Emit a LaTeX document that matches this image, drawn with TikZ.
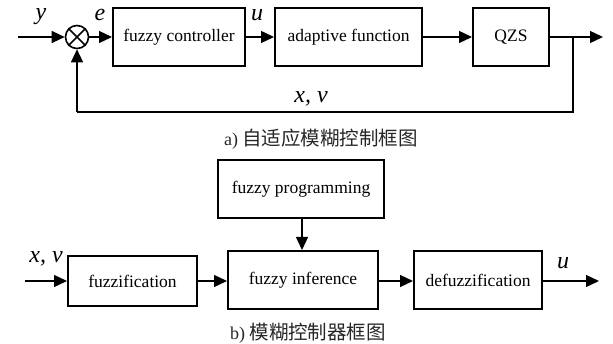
\documentclass[tikz,border=0pt]{standalone}
\usepackage{fontspec}
\setmainfont{Liberation Serif}
\newfontfamily\cjk{Noto Sans CJK SC}
\usetikzlibrary{arrows.meta}
\tikzset{
  blk/.style={draw, line width=2pt, inner sep=0pt, font=\fontsize{17.5}{20}\selectfont},
  conn/.style={line width=1.3pt},
  arr/.style={conn, -{Triangle[length=13pt,width=12pt]}},
  lbl/.style={inner sep=0pt, anchor=base, font=\fontsize{24}{26}\selectfont\itshape},
  captxt/.style={inner sep=0pt, text=black!85},
}
\begin{document}
\begin{tikzpicture}[x=1pt,y=-1pt]
\useasboundingbox (0,0) rectangle (613,344);
% ---------- a) ----------
\coordinate (in) at (18,37);
\node[draw, line width=1.6pt, circle, minimum size=23pt, inner sep=0pt] (sum) at (77,37) {};
\draw[line width=1.6pt] (sum.north west) -- (sum.south east) (sum.north east) -- (sum.south west);
\node[blk, minimum width=132pt, minimum height=58pt] (fc) at (179,37) {fuzzy controller};
\node[blk, minimum width=147pt, minimum height=58pt] (af) at (348.5,37) {adaptive function};
\node[blk, minimum width=76pt, minimum height=58pt] (qzs) at (511,37) {QZS};
\coordinate (br) at (573,37);
\coordinate (out) at (603,37);
\coordinate (fb1) at (573,112);
\coordinate (fb2) at (77,112);
\draw[arr] (in) -- (sum);
\draw[arr] (sum) -- (fc);
\draw[arr] (fc) -- (af);
\draw[arr] (af) -- (qzs);
\draw[arr] (qzs) -- (out);
\draw[conn] (br) -- (fb1) -- (fb2);
\draw[arr] (fb2) -- (sum);
\node[lbl] (ly) at (41,20) {y};
\node[lbl] (le) at (100,21) {e};
\node[lbl] (lu) at (257,21) {u};
\node[lbl] (lxv) at (311,103) {x, v};
\node[captxt] (capa) at (321,139) {\fontsize{18}{20}\selectfont a)\ \cjk\fontsize{19.5}{22}\selectfont 自适应模糊控制框图};
% ---------- b) ----------
\node[blk, minimum width=166pt, minimum height=58pt] (prog) at (301,189) {fuzzy programming};
\node[blk, minimum width=150pt, minimum height=58pt] (inf) at (303,280) {fuzzy inference};
\node[blk, minimum width=129pt, minimum height=50pt] (fz) at (132.5,281) {fuzzification};
\node[blk, minimum width=128pt, minimum height=58pt] (dfz) at (478,280) {defuzzification};
\coordinate (in2) at (25,281);
\coordinate (out2) at (599,281);
\draw[arr] (in2) -- (fz.west |- in2);
\draw[arr] (fz.east |- in2) -- (inf.west |- in2);
\draw[arr] (inf.east |- in2) -- (dfz.west |- in2);
\draw[arr] (dfz.east |- in2) -- (out2);
\draw[arr] (prog.south -| 302,0) -- (inf.north -| 302,0);
\node[lbl] (lxv2) at (46,263) {x, v};
\node[lbl] (lu2) at (563,269) {u};
\node[captxt] (capb) at (308,333) {\fontsize{18}{20}\selectfont b)\ \cjk\fontsize{19.5}{22}\selectfont 模糊控制器框图};
\end{tikzpicture}
\end{document}
